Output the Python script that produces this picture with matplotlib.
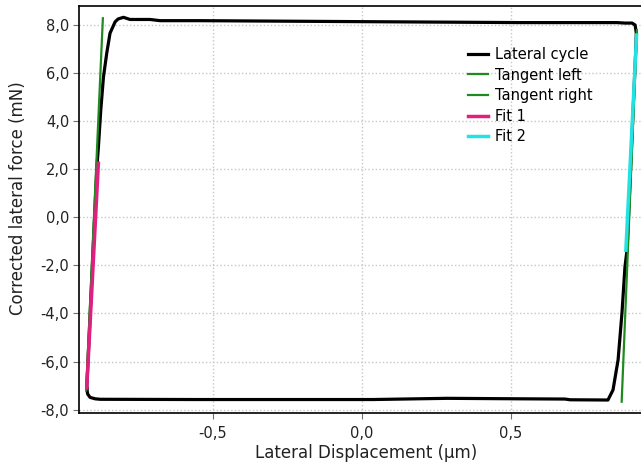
import matplotlib
matplotlib.use("Agg")
import matplotlib.pyplot as plt
from matplotlib.ticker import FuncFormatter, FixedLocator

# Lateral force-displacement cycle (µm, mN)
cycle_x = [-0.922, -0.919, -0.911, -0.894, -0.877, -0.559, -0.083, 0.037, 0.286,
           0.530, 0.681, 0.698, 0.825, 0.842, 0.859, 0.872, 0.882, 0.889, 0.908,
           0.919, 0.920, 0.916, 0.906, 0.882, 0.855, 0.530, 0.262, -0.006, -0.274,
           -0.542, -0.676, -0.710, -0.777, -0.799, -0.817, -0.827, -0.844, -0.855,
           -0.866, -0.875, -0.883, -0.888, -0.922]
cycle_y = [-7.10, -7.35, -7.49, -7.55, -7.57, -7.58, -7.58, -7.58, -7.53,
           -7.55, -7.56, -7.59, -7.60, -7.18, -5.93, -3.98, -2.07, -1.36, 4.04,
           7.16, 7.66, 7.99, 8.07, 8.07, 8.09, 8.09, 8.11, 8.13, 8.15,
           8.17, 8.17, 8.22, 8.22, 8.31, 8.24, 8.12, 7.65, 6.82,
           5.83, 4.46, 2.92, 2.09, -7.10]

tangent_left_x = [-0.924, -0.868]
tangent_left_y = [-7.20, 8.27]
tangent_right_x = [0.871, 0.922]
tangent_right_y = [-7.67, 7.78]
fit1_x = [-0.922, -0.883]
fit1_y = [-7.10, 2.24]
fit2_x = [0.885, 0.921]
fit2_y = [-1.37, 7.57]

x_ticks = [-0.5, 0.0, 0.5]
y_ticks = [-8, -6, -4, -2, 0, 2, 4, 6, 8]

plt.rcParams['font.family'] = ['DejaVu Sans']

W, H = 641, 466
fig = plt.figure(figsize=(W / 100, H / 100), dpi=100)
left_px, right_px, top_px, bottom_px = 79, 653, 6, 413
ax = fig.add_axes([left_px / W, 1 - bottom_px / H,
                   (right_px - left_px) / W, (bottom_px - top_px) / H])

ax.plot(cycle_x, cycle_y, color='black', lw=2.3, solid_joinstyle='round',
        label='Lateral cycle', zorder=3)
ax.plot(tangent_left_x, tangent_left_y, color='#1f8a1f', lw=1.6,
        label='Tangent left', zorder=4)
ax.plot(tangent_right_x, tangent_right_y, color='#1f8a1f', lw=1.6,
        label='Tangent right', zorder=4)
ax.plot(fit1_x, fit1_y, color='#e0207f', lw=2.5, label='Fit 1', zorder=5)
ax.plot(fit2_x, fit2_y, color='#22e3e3', lw=2.5, label='Fit 2', zorder=5)

ax.set_xlim(-0.948, 0.976)
ax.set_ylim(-8.14, 8.78)
ax.xaxis.set_major_locator(FixedLocator(x_ticks))
ax.yaxis.set_major_locator(FixedLocator(y_ticks))

def comma_fmt(v, pos):
    return f"{v:.1f}".replace('.', ',')

ax.xaxis.set_major_formatter(FuncFormatter(comma_fmt))
ax.yaxis.set_major_formatter(FuncFormatter(comma_fmt))

ax.grid(True, color='#c6c6c6', linestyle=(0, (1, 1.6)), lw=1.0)
ax.set_axisbelow(True)
for side in ('left', 'bottom', 'top'):
    ax.spines[side].set_color('black')
    ax.spines[side].set_linewidth(1.2)
ax.spines['right'].set_visible(False)
ax.tick_params(axis='both', direction='out', length=4.5, width=0.8,
               color='#707070', labelsize=10.5, labelcolor='#222222', pad=2.5)
ax.tick_params(axis='x', pad=5)
ax.tick_params(top=False, right=False)

fig.text(366 / W, 1 - 453 / H, 'Lateral Displacement (µm)', fontsize=12,
         ha='center', va='center', color='#222222')
fig.text(18 / W, 1 - 198.5 / H, 'Corrected lateral force (mN)', fontsize=12,
         rotation=90, ha='center', va='center', color='#222222')

ax.legend(loc='upper left', bbox_to_anchor=(468 / W, 1 - 47 / H),
          bbox_transform=fig.transFigure, frameon=False, fontsize=10.5,
          borderpad=0, borderaxespad=0, handlelength=1.4, handletextpad=0.45,
          labelspacing=0.38)

fig.savefig('out.png', dpi=100)
